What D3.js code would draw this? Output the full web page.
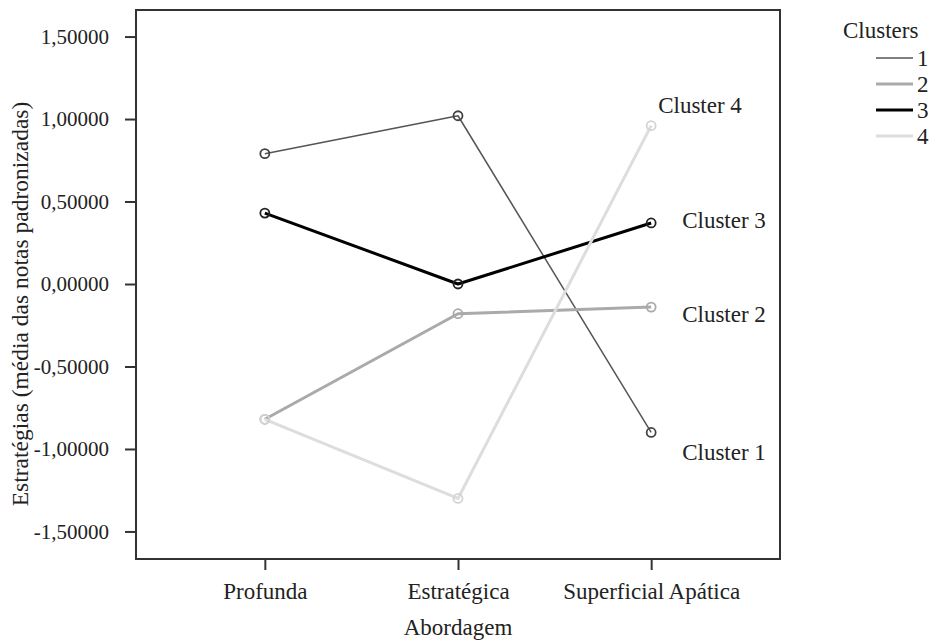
<!DOCTYPE html>
<html><head><meta charset="utf-8">
<script src="https://cdn.jsdelivr.net/npm/d3@7"></script>
<style>
body{margin:0;background:#fff;}
svg text{font-family:"Liberation Serif","Times New Roman",serif;fill:#222;}
</style></head>
<body><svg id="c" width="930" height="644"></svg>
<script>
const categories = ["Profunda", "Estratégica", "Superficial Apática"];
const clusterNames = ["1", "2", "3", "4"];
const cluster1 = [0.79, 1.02, -0.90];
const cluster2 = [-0.82, -0.18, -0.14];
const cluster3 = [0.43, 0.00, 0.37];
const cluster4 = [-0.82, -1.30, 0.96];
const yTicks = [1.5, 1.0, 0.5, 0.0, -0.5, -1.0, -1.5];
const endLabels = ["Cluster 1", "Cluster 2", "Cluster 3", "Cluster 4"];

const series = [cluster1, cluster2, cluster3, cluster4];
const styles = [
  {stroke:"#555", w:1.5, mk:"#444"},
  {stroke:"#aaa", w:3, mk:"#aaa"},
  {stroke:"#000", w:3, mk:"#222"},
  {stroke:"#ddd", w:3, mk:"#d4d4d4"}
];
const FF = "Liberation Serif, Times New Roman, serif";

const svg = d3.select("#c");
const L = 136, R = 780, T = 10, B = 559;
const x = d3.scalePoint().domain(categories).range([L, R]).padding(0.667);
const y = d3.scaleLinear().domain([-1.667, 1.661]).range([B, T]);

const fmt = v => (v < 0 ? "-" : "") + Math.abs(v).toFixed(5).replace(".", ",");

// Y axis
const ya = svg.append("g").attr("transform", `translate(${L},0)`)
  .call(d3.axisLeft(y).tickValues(yTicks).tickSize(11).tickPadding(16).tickFormat(fmt));
ya.select(".domain").remove();
ya.selectAll(".tick line").attr("stroke", "#333").attr("stroke-width", 2);
ya.selectAll(".tick text").style("font-size", "21px").attr("fill", "#333")
  .style("font-family", FF);

// X axis
const xa = svg.append("g").attr("transform", `translate(0,${B})`)
  .call(d3.axisBottom(x).tickSize(11).tickPadding(13));
xa.select(".domain").remove();
xa.selectAll(".tick line").attr("stroke", "#333").attr("stroke-width", 2);
xa.selectAll(".tick text").style("font-size", "23px").attr("fill", "#222")
  .style("font-family", FF);

// frame
svg.append("rect").attr("x", L).attr("y", T).attr("width", R - L).attr("height", B - T)
  .attr("fill", "none").attr("stroke", "#333").attr("stroke-width", 2);

// lines
const line = d3.line().x((d, i) => x(categories[i])).y(d => y(d));
series.forEach((s, k) => {
  svg.append("path").datum(s).attr("d", line).attr("fill", "none")
    .attr("stroke", styles[k].stroke).attr("stroke-width", styles[k].w)
    .attr("stroke-linejoin", "round");
});
series.forEach((s, k) => {
  svg.append("g").selectAll("circle").data(s).join("circle")
    .attr("cx", (d, i) => x(categories[i])).attr("cy", d => y(d)).attr("r", 4.5)
    .attr("fill", "none").attr("stroke", styles[k].mk).attr("stroke-width", 1.8);
});

// end labels
const lastIdx = categories.length - 1;
const labelOffsets = [[31, 28], [31, 15], [31, 5], [7, -13]];
series.forEach((s, k) => {
  svg.append("text").attr("x", x(categories[lastIdx]) + labelOffsets[k][0])
    .attr("y", y(s[lastIdx]) + labelOffsets[k][1])
    .style("font-size", "23px").style("font-family", FF).text(endLabels[k]);
});

// axis titles
svg.append("text").attr("x", (L + R) / 2).attr("y", 635).attr("text-anchor", "middle")
  .style("font-size", "23px").style("font-family", FF).text("Abordagem");
svg.append("text").attr("transform", "translate(28,304) rotate(-90)").attr("text-anchor", "middle")
  .style("font-size", "23.5px").style("font-family", FF).text("Estratégias (média das notas padronizadas)");

// legend
const lg = svg.append("g");
lg.append("text").attr("x", 843).attr("y", 38).style("font-size", "23px").style("font-family", FF).text("Clusters");
clusterNames.forEach((n, k) => {
  const yy = 58 + k * 26;
  lg.append("line").attr("x1", 876).attr("x2", 913).attr("y1", yy).attr("y2", yy)
    .attr("stroke", styles[k].stroke).attr("stroke-width", styles[k].w);
  lg.append("text").attr("x", 917).attr("y", yy + 8).style("font-size", "23px")
    .style("font-family", FF).text(n);
});
</script></body></html>
